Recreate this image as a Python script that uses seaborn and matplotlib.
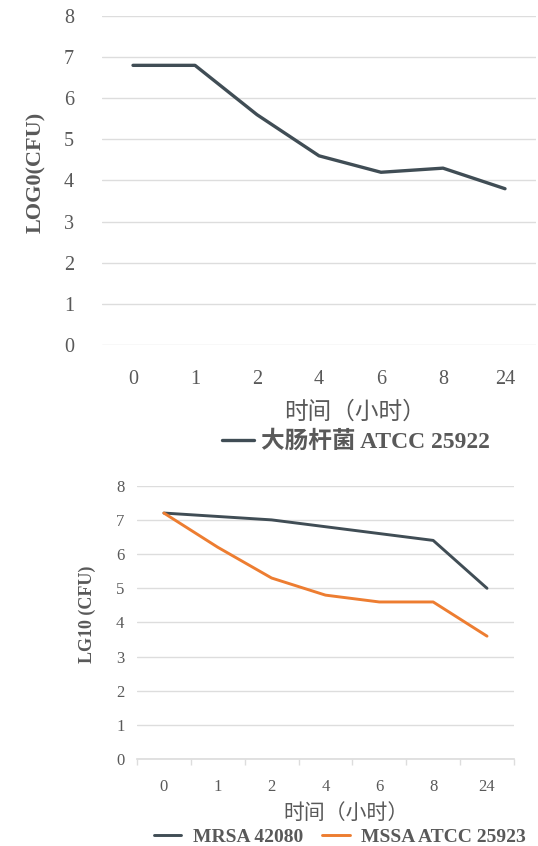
import matplotlib
matplotlib.use("Agg")
import matplotlib.pyplot as plt
import pandas as pd
import seaborn as sns

# time points (hours), treated as categories
hours = ["0", "1", "2", "4", "6", "8", "24"]

# top panel: E. coli
ecoli = [6.8, 6.8, 5.6, 4.6, 4.2, 4.3, 3.8]

# bottom panel: MRSA / MSSA
mrsa = [7.2, 7.1, 7.0, 6.8, 6.6, 6.4, 5.0]
mssa = [7.2, 6.2, 5.3, 4.8, 4.6, 4.6, 3.6]

ecoli_name = "大肠杆菌 ATCC 25922"
mrsa_name = "MRSA 42080"
mssa_name = "MSSA ATCC 25923"

dark = "#404D55"
orange = "#ED7D31"
grey_txt = "#595959"
grid_c = "#DDDDDD"

sns.set_theme(style="white")
plt.rcParams["font.family"] = ["Liberation Serif", "Noto Sans CJK SC"]

top_df = pd.DataFrame({"hour": hours, "value": ecoli, "strain": ecoli_name})
bot_df = pd.concat([
    pd.DataFrame({"hour": hours, "value": mrsa, "strain": mrsa_name}),
    pd.DataFrame({"hour": hours, "value": mssa, "strain": mssa_name}),
])

fig = plt.figure(figsize=(5.38, 8.46), dpi=100)
ax1 = fig.add_axes([0.1896, 0.5922, 0.8067, 0.3889])
ax2 = fig.add_axes([0.2546, 0.1025, 0.7007, 0.3234])

cjk = ["Noto Sans CJK SC", "DejaVu Sans"]
mixed = ["Liberation Serif", "Noto Sans CJK SC"]

# ---- top
sns.lineplot(data=top_df, x="hour", y="value", hue="strain", palette=[dark],
             linewidth=2.4, ax=ax1, legend=False, sort=False)
ax1.set_ylim(0, 8)
ax1.set_xlim(-0.5, 6.5)
ax1.set_yticks(range(0, 9))
ax1.yaxis.grid(True, color=grid_c, linewidth=1)
for s in ax1.spines.values():
    s.set_visible(False)
ax1.tick_params(axis="x", length=0, pad=18, labelsize=14.5, labelcolor=grey_txt)
ax1.tick_params(axis="y", length=0, pad=20, labelsize=14.5, labelcolor=grey_txt)
ax1.set_ylabel("LOG0(CFU)", fontsize=16, fontweight="bold", color=grey_txt,
               family=["Liberation Serif"])
ax1.yaxis.set_label_coords(-0.129, 0.526)
ax1.set_xlabel("时间（小时）", fontsize=17, color=grey_txt, family=cjk)
ax1.xaxis.set_label_coords(0.583, -0.168)
h1 = [plt.Line2D([], [], color=dark, linewidth=2.4)]
fig.legend(h1, [ecoli_name], loc="center", bbox_to_anchor=(0.662, 0.4775),
           frameon=False, handlelength=1.35, handletextpad=0.3,
           prop={"family": mixed, "weight": "bold", "size": 17},
           labelcolor=grey_txt)

# ---- bottom
sns.lineplot(data=bot_df, x="hour", y="value", hue="strain",
             palette=[dark, orange], linewidth=2.1, ax=ax2, legend=False,
             sort=False)
ax2.set_ylim(0, 8)
ax2.set_xlim(-0.5, 6.5)
ax2.set_yticks(range(0, 9))
ax2.yaxis.grid(True, color=grid_c, linewidth=1)
for k, s in ax2.spines.items():
    s.set_visible(k == "bottom")
ax2.spines["bottom"].set_color(grid_c)
ax2.set_xticks([x - 0.5 for x in range(8)], minor=True)
ax2.tick_params(axis="x", which="minor", length=4, color=grid_c, bottom=True)
ax2.tick_params(axis="x", which="major", length=0, pad=14, labelsize=12,
                labelcolor=grey_txt)
ax2.tick_params(axis="y", length=0, pad=9, labelsize=12, labelcolor=grey_txt)
ax2.set_ylabel("LG10 (CFU)", fontsize=13, fontweight="bold", color=grey_txt,
               family=["Liberation Serif"])
ax2.yaxis.set_label_coords(-0.109, 0.531)
ax2.set_xlabel("时间（小时）", fontsize=15, color=grey_txt, family=cjk)
ax2.xaxis.set_label_coords(0.554, -0.155)
h2 = [plt.Line2D([], [], color=dark, linewidth=2.1),
      plt.Line2D([], [], color=orange, linewidth=2.1)]
fig.legend(h2, [mrsa_name, mssa_name], loc="center", bbox_to_anchor=(0.632, 0.0106),
           ncol=2, frameon=False, handlelength=1.4, handletextpad=0.6,
           columnspacing=1.0,
           prop={"family": ["Liberation Serif"], "weight": "bold", "size": 14},
           labelcolor=grey_txt)

fig.savefig("out.png", dpi=100)
